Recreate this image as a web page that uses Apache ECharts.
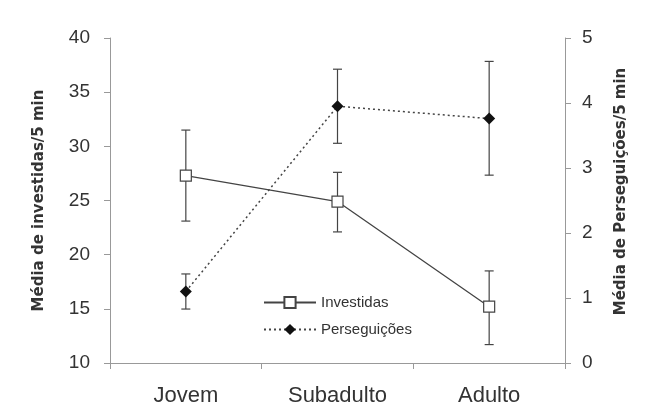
<!DOCTYPE html>
<html><head><meta charset="utf-8">
<script src="https://cdn.jsdelivr.net/npm/echarts@6/dist/echarts.min.js"></script>
<style>html,body{margin:0;padding:0;background:#fff}#c{width:649px;height:409px}</style>
</head><body><div id="c"></div>
<script>
const categories = ['Jovem', 'Subadulto', 'Adulto'];
const investidas = [27.3, 24.9, 15.2];
const investidasLow = [23.1, 22.1, 11.7];
const investidasHigh = [31.5, 27.6, 18.5];
const perseguicoes = [1.1, 3.95, 3.76];
const perseguicoesLow = [0.83, 3.38, 2.89];
const perseguicoesHigh = [1.37, 4.52, 4.64];
const leftTicks = [10, 15, 20, 25, 30, 35, 40];
const rightTicks = [0, 1, 2, 3, 4, 5];

function errData(low, high) { return categories.map((c, i) => [i, low[i], high[i]]); }
function errRender(params, api) {
  const x = api.value(0);
  const lo = api.coord([x, api.value(1)]);
  const hi = api.coord([x, api.value(2)]);
  const w = 4.5;
  const st = { stroke: '#444', lineWidth: 1.2 };
  return { type: 'group', children: [
    { type: 'line', shape: { x1: lo[0], y1: lo[1], x2: hi[0], y2: hi[1] }, style: st },
    { type: 'line', shape: { x1: lo[0] - w, y1: lo[1], x2: lo[0] + w, y2: lo[1] }, style: st },
    { type: 'line', shape: { x1: hi[0] - w, y1: hi[1], x2: hi[0] + w, y2: hi[1] }, style: st }
  ]};
}

const chart = echarts.init(document.getElementById('c'));
const axisLine = { show: true, lineStyle: { color: '#999', width: 1 } };
const fam = 'Liberation Sans, Arial';
const yLabel = { color: '#333', fontSize: 19, fontFamily: fam };
const titleStyle = { color: '#333', fontSize: 15, fontWeight: 'bold', fontFamily: 'DejaVu Sans' };
chart.setOption({
  animation: false,
  backgroundColor: '#fff',
  grid: { left: 110, right: 84, top: 38, bottom: 46 },
  legend: {
    orient: 'vertical', left: 258, top: 290, itemWidth: 52, itemHeight: 14, itemGap: 12,
    textStyle: { color: '#333', fontSize: 15, fontFamily: fam },
    data: ['Investidas', 'Perseguições']
  },
  xAxis: {
    type: 'category', data: categories, boundaryGap: true,
    axisLine: axisLine, axisTick: { show: true, length: 6, lineStyle: { color: '#999' } },
    axisLabel: { color: '#333', fontSize: 22, fontFamily: fam, margin: 22 }
  },
  yAxis: [
    { type: 'value', min: leftTicks[0], max: leftTicks[leftTicks.length - 1], interval: 5,
      splitLine: { show: false }, axisLine: axisLine,
      axisTick: { show: true, length: 6, lineStyle: { color: '#999' } },
      axisLabel: Object.assign({ margin: 20 }, yLabel),
      name: 'Média de investidas/5 min', nameLocation: 'middle', nameRotate: 90, nameGap: 63,
      nameTextStyle: titleStyle },
    { type: 'value', min: rightTicks[0], max: rightTicks[rightTicks.length - 1], interval: 1, position: 'right',
      splitLine: { show: false }, axisLine: axisLine,
      axisTick: { show: true, length: 6, lineStyle: { color: '#999' } },
      axisLabel: Object.assign({ margin: 17 }, yLabel),
      name: 'Média de Perseguições/5 min', nameLocation: 'middle', nameRotate: 90, nameGap: 49,
      nameTextStyle: Object.assign({ padding: [0, 0, 0, 18] }, titleStyle) }
  ],
  series: [
    { type: 'custom', yAxisIndex: 0, renderItem: errRender, data: errData(investidasLow, investidasHigh), z: 1, silent: true },
    { type: 'custom', yAxisIndex: 1, renderItem: errRender, data: errData(perseguicoesLow, perseguicoesHigh), z: 1, silent: true },
    { name: 'Investidas', type: 'line', yAxisIndex: 0, data: investidas, z: 3,
      symbol: 'rect', symbolSize: 11,
      itemStyle: { color: '#fff', borderColor: '#444', borderWidth: 1.2 },
      lineStyle: { color: '#444', width: 1.3, type: 'solid' } },
    { name: 'Perseguições', type: 'line', yAxisIndex: 1, data: perseguicoes, z: 3,
      symbol: 'diamond', symbolSize: 12,
      itemStyle: { color: '#111', borderColor: '#111', borderWidth: 0 },
      lineStyle: { color: '#444', width: 1.5, type: [2, 3] } }
  ]
});
</script></body></html>
